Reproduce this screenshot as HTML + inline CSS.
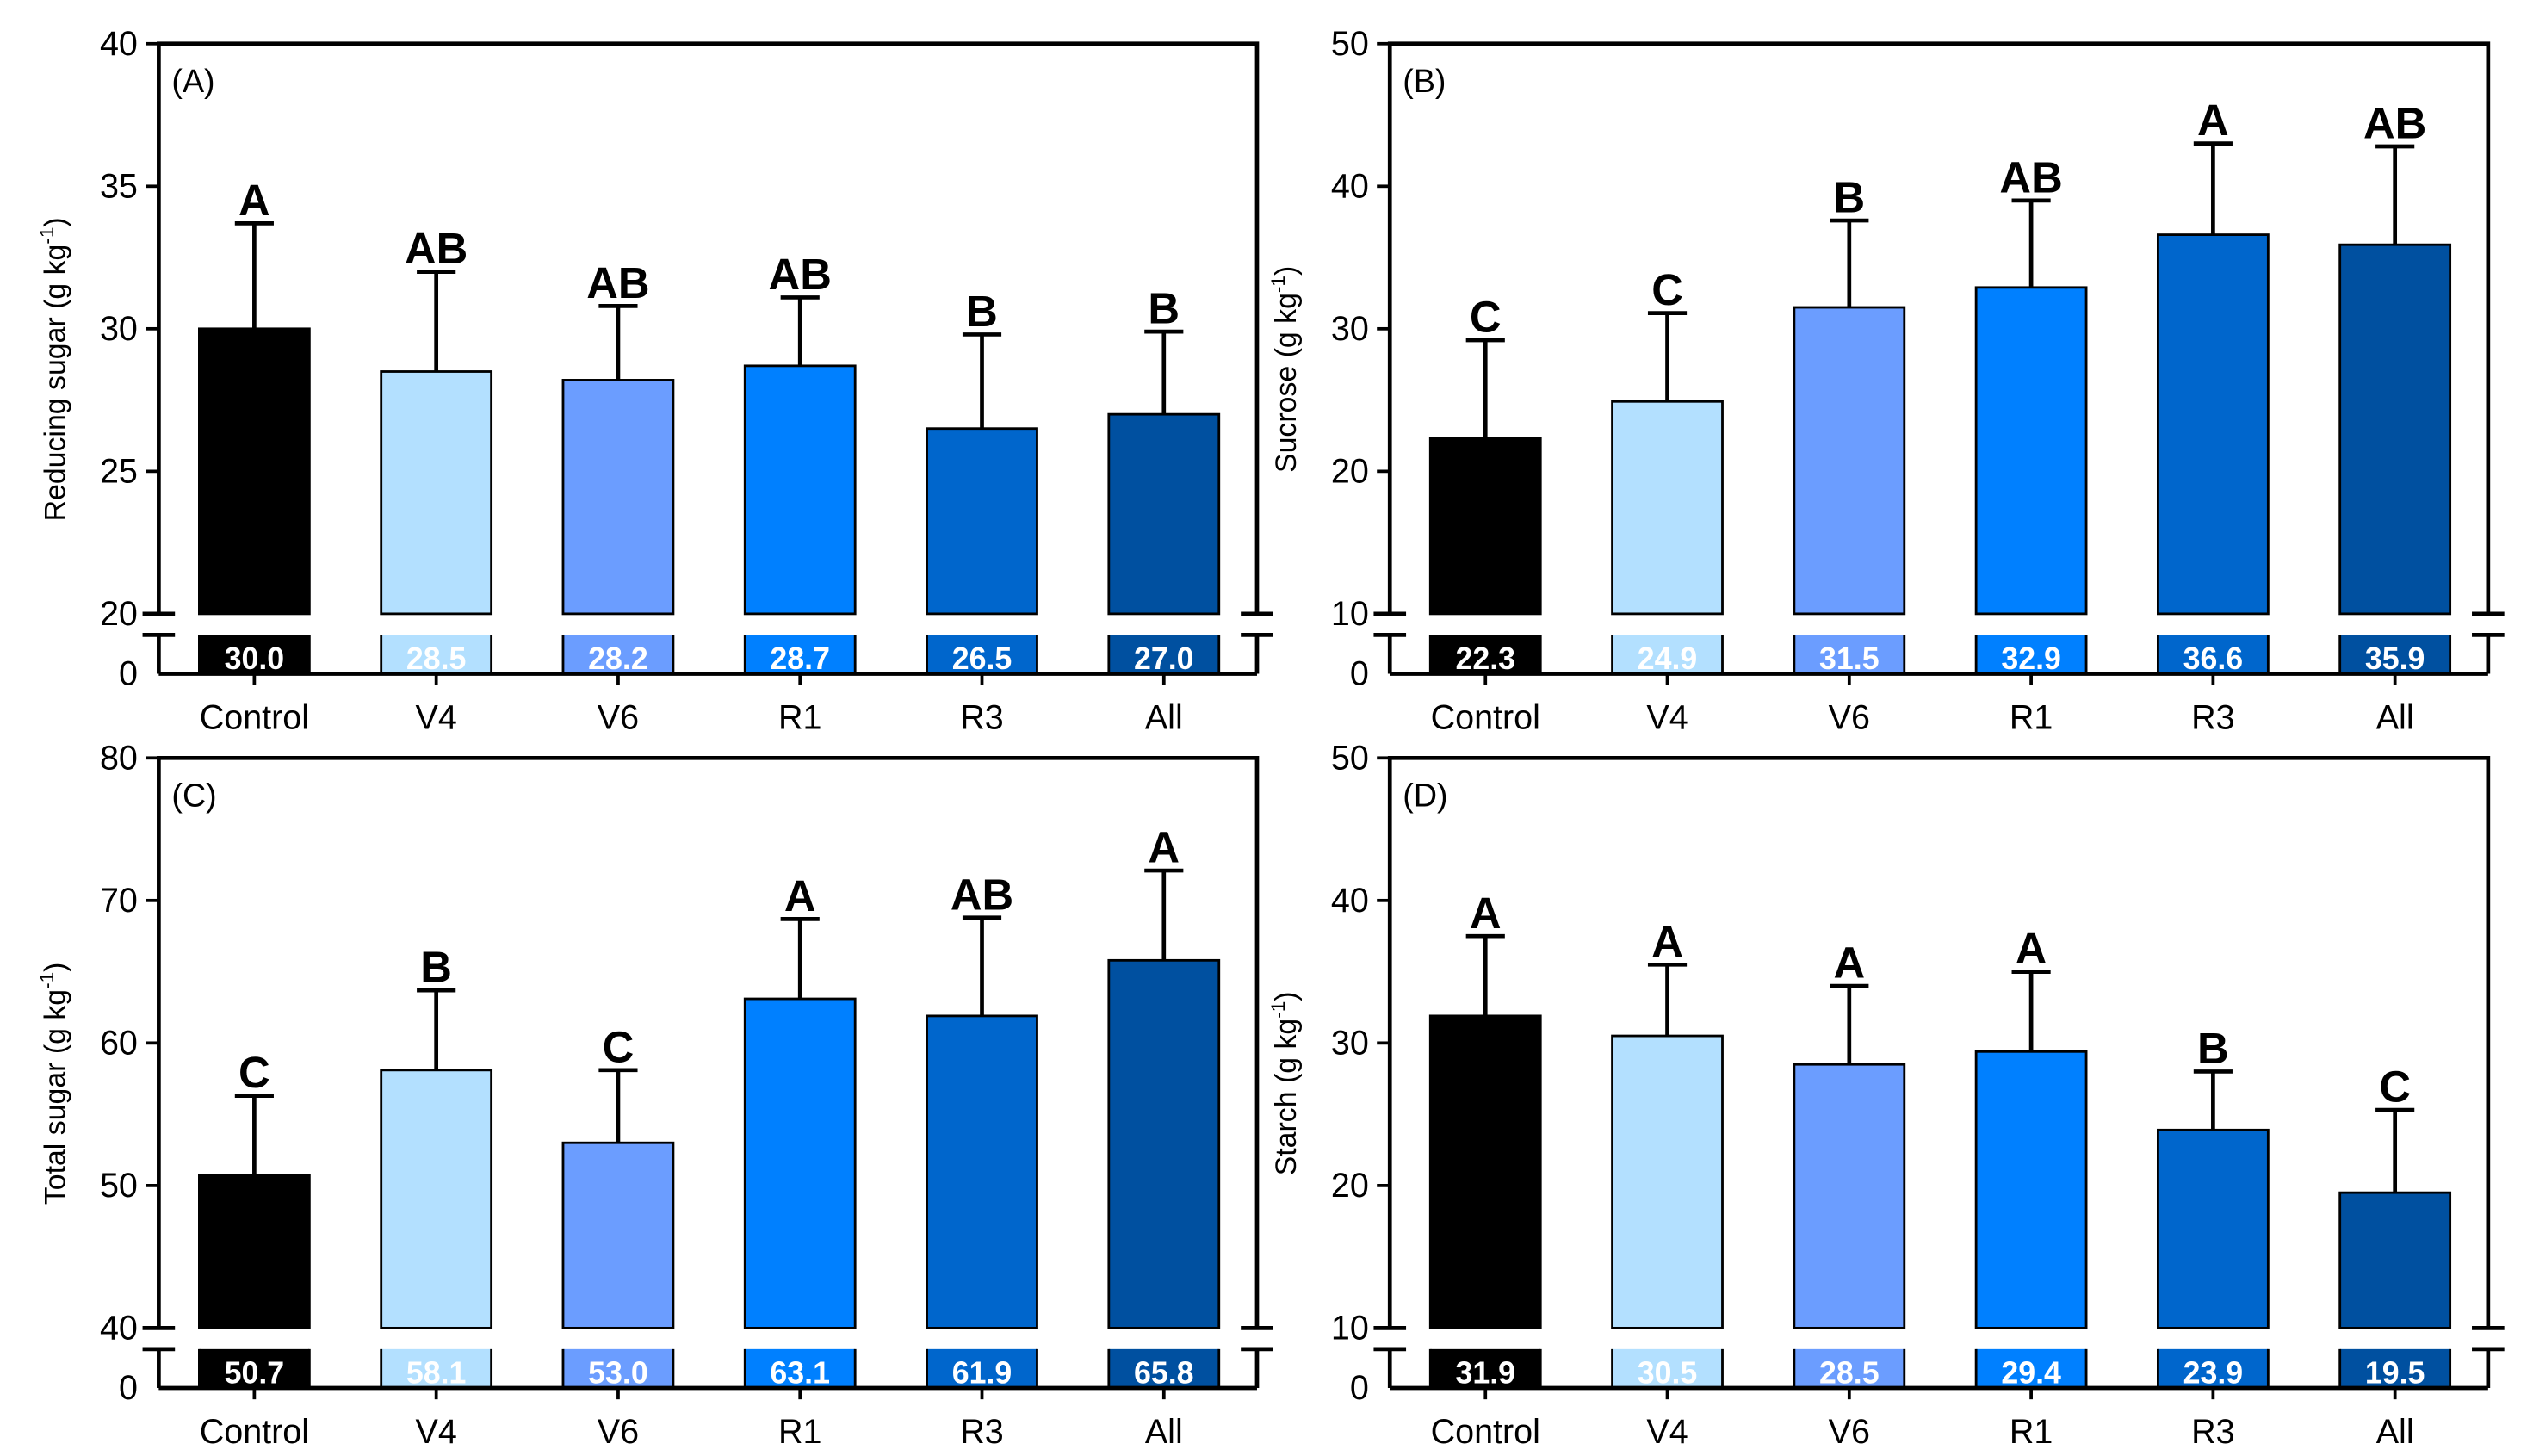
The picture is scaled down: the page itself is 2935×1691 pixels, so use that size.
<!DOCTYPE html>
<html><head><meta charset="utf-8"><style>
html,body{margin:0;padding:0;background:#fff;}
svg{display:block;}
text{font-family:"Liberation Sans",Arial,sans-serif;}
</style></head><body>
<svg id="fig" width="2935" height="1691" viewBox="0 0 1560 899" preserveAspectRatio="none"></svg>
<script>
const categories = ["Control","V4","V6","R1","R3","All"];
const colors = ["#000000","#b3e0ff","#6b9dff","#0080ff","#0066cc","#0050a0"];
const valsA = [30.0,28.5,28.2,28.7,26.5,27.0];
const errA = [33.7,32.0,30.8,31.1,29.8,29.9];
const letA = ["A","AB","AB","AB","B","B"];
const valsB = [22.3,24.9,31.5,32.9,36.6,35.9];
const errB = [29.2,31.1,37.6,39.0,43.0,42.8];
const letB = ["C","C","B","AB","A","AB"];
const valsC = [50.7,58.1,53.0,63.1,61.9,65.8];
const errC = [56.3,63.7,58.1,68.7,68.8,72.1];
const letC = ["C","B","C","A","AB","A"];
const valsD = [31.9,30.5,28.5,29.4,23.9,19.5];
const errD = [37.5,35.5,34.0,35.0,28.0,25.3];
const letD = ["A","A","A","A","B","C"];
const ticksA = [20,25,30,35,40];
const ticksB = [10,20,30,40,50];
const ticksC = [40,50,60,70,80];
const ticksD = [10,20,30,40,50];

const NS="http://www.w3.org/2000/svg";
const svg=document.getElementById('fig');
function mk(tag,attrs,parent){const e=document.createElementNS(NS,tag);for(const k in attrs)e.setAttribute(k,attrs[k]);(parent||svg).appendChild(e);return e;}

function panel(id,L,T,ymin,ymax,ticks,vals,errs,lets,title,label){
  const R=L+678, brk=T+352, lowTop=brk+13, X0=brk+37;
  const g=mk('g',{});
  
  
  const y=v=>T+(ymax-v)/(ymax-ymin)*(brk-T);
  const x=i=>L+59+i*112.3;
  const bw=68;
  vals.forEach((v,i)=>{
    const r=mk('rect',{x:x(i)-bw/2,y:y(v),width:bw,height:brk-y(v),fill:colors[i],stroke:'#000','stroke-width':1.5},g);
    
    
    const r2=mk('rect',{x:x(i)-bw/2,y:lowTop,width:bw,height:X0-lowTop,fill:colors[i]},g);
    
    
    mk('path',{d:`M${x(i)-bw/2},${lowTop} V${X0} M${x(i)+bw/2},${lowTop} V${X0}`,stroke:'#000','stroke-width':1.5},g);
    const vt=mk('text',{x:x(i),y:X0-3,'font-size':19,fill:'#fff','text-anchor':'middle','font-weight':'bold'},g);
    vt.textContent=v.toFixed(1);
    
    
    const e=mk('path',{d:`M${x(i)},${y(v)} V${y(errs[i])} M${x(i)-12},${y(errs[i])} H${x(i)+12}`,stroke:'#000','stroke-width':2.5,fill:'none'},g);
    
    
    const lt=mk('text',{x:x(i),y:y(errs[i])-5,'font-size':27,'font-weight':'bold','text-anchor':'middle'},g);
    lt.textContent=lets[i];
    
    
    mk('line',{x1:x(i),x2:x(i),y1:X0,y2:X0+7,stroke:'#000','stroke-width':2},g);
    const ct=mk('text',{x:x(i),y:X0+34,'font-size':21,'text-anchor':'middle'},g);
    ct.textContent=categories[i];
    
    
  });
  const ax=mk('path',{d:`M${L},${brk} V${T} H${R} V${brk} M${L},${lowTop} V${X0} M${R},${lowTop} V${X0} M${L},${X0} H${R}`,stroke:'#000','stroke-width':2.5,fill:'none'},g);
  
  
  mk('path',{d:`M${L-10},${brk} H${L+10} M${L-10},${lowTop} H${L+10} M${R-10},${brk} H${R+10} M${R-10},${lowTop} H${R+10}`,stroke:'#000','stroke-width':2.5},g);
  ticks.forEach(t=>{
    mk('line',{x1:L-8,x2:L,y1:y(t),y2:y(t),stroke:'#000','stroke-width':2},g);
    const tt=mk('text',{x:L-13,y:y(t)+7,'font-size':21,'text-anchor':'end'},g);
    tt.textContent=t;
    
    
  });
  const zt=mk('text',{x:L-13,y:X0+7,'font-size':21,'text-anchor':'end'},g);
  zt.textContent='0';
  
  
  const pl=mk('text',{x:L+8,y:T+30,'font-size':20},g);
  pl.textContent=label;
  
  
  const yt=mk('text',{x:0,y:0,'font-size':18,'text-anchor':'middle',transform:`translate(${L-58},${(T+brk)/2+25}) rotate(-90)`},g);
  yt.innerHTML=title+' (g kg<tspan dy="-7" font-size="12">-1</tspan><tspan dy="7">)</tspan>';
  
  
}
panel('a',98,27,20,40,ticksA,valsA,errA,letA,'Reducing sugar','(A)');
panel('b',858,27,10,50,ticksB,valsB,errB,letB,'Sucrose','(B)');
panel('c',98,468,40,80,ticksC,valsC,errC,letC,'Total sugar','(C)');
panel('d',858,468,10,50,ticksD,valsD,errD,letD,'Starch','(D)');
</script>
</body></html>
